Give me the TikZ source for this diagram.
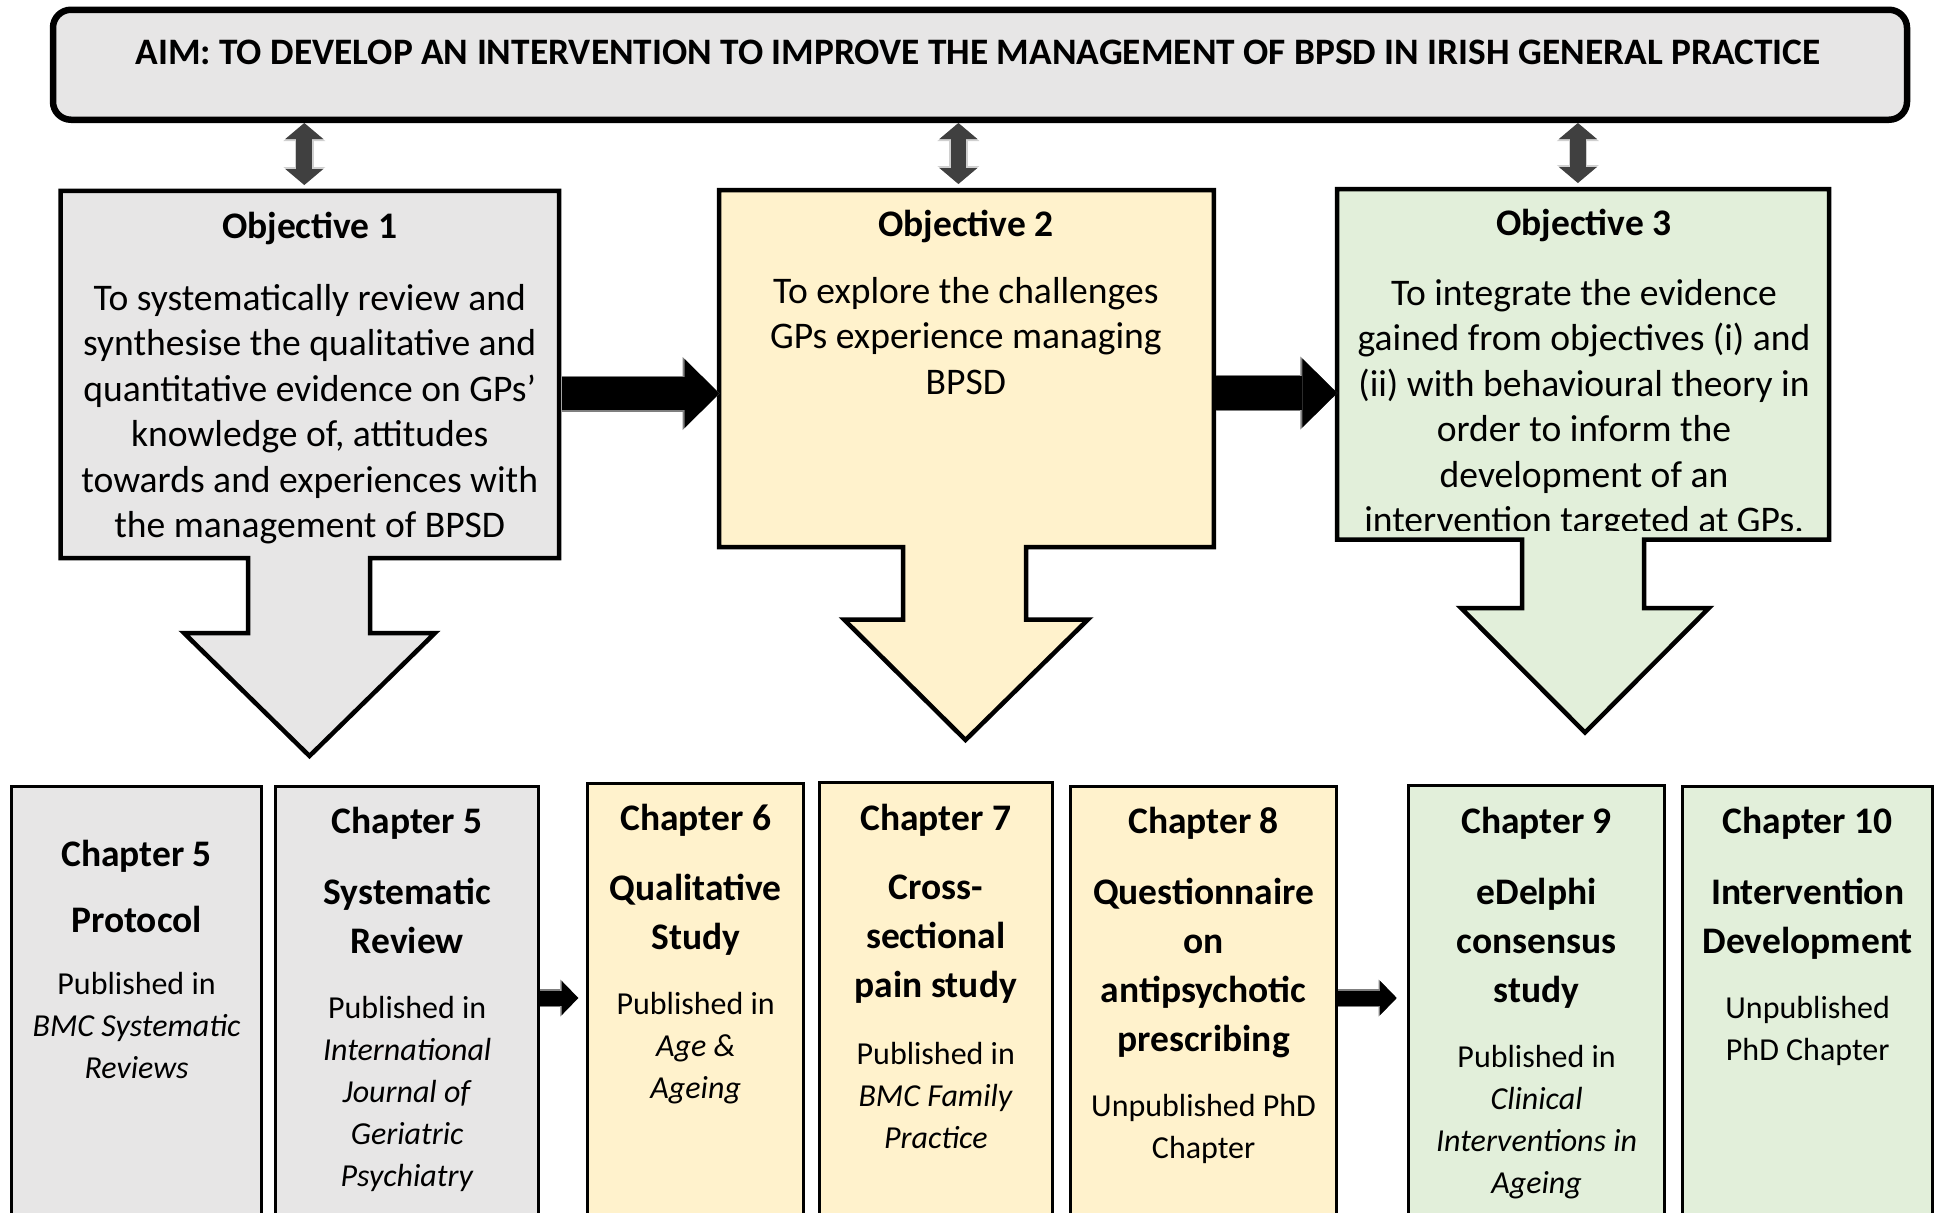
\documentclass[tikz,border=0pt]{standalone}
\usepackage{fontspec}
\setmainfont{Carlito}
\usetikzlibrary{arrows.meta}
\definecolor{aimgrey}{HTML}{E7E6E6}
\definecolor{obgrey}{HTML}{E7E6E6}
\definecolor{obyellow}{HTML}{FFF2CC}
\definecolor{obgreen}{HTML}{E2EFDA}
\definecolor{linkgrey}{HTML}{404040}
\definecolor{rimgrey}{HTML}{D0D0D0}
\definecolor{edgegrey}{HTML}{7F7F7F}

\begin{document}
\begin{tikzpicture}[x=1pt,y=-1pt,
    aimbox/.style={draw,line width=6.5pt,rounded corners=18pt,fill=aimgrey,
      minimum width=1854pt,minimum height=110pt,inner sep=0pt},
    objshape/.style={draw,line width=4.5pt,line join=miter},
    objtitle/.style={inner sep=0pt,font=\fontsize{37.5}{45}\selectfont\bfseries},
    objtext/.style={inner sep=0pt,align=center,font=\fontsize{37.6}{45.5}\selectfont},
    chapbox/.style={draw,line width=3pt,minimum height=440pt,anchor=north,inner sep=0pt},
    chaptitle/.style={inner sep=0pt,align=center,font=\fontsize{37.5}{49}\selectfont\bfseries},
    chaptext/.style={inner sep=0pt,align=center,font=\fontsize{32}{42}\selectfont},
    dblarrow/.style={linkgrey,line width=15.7pt,
      {Triangle[length=16pt,width=38pt,line width=0pt]}-{Triangle[length=16pt,width=38pt,line width=0pt]},
      preaction={draw=rimgrey,line width=18.5pt,
        {Triangle[length=18pt,width=42pt,line width=0pt]}-{Triangle[length=18pt,width=42pt,line width=0pt]}}},
    fatarrow/.style={black,line width=33.3pt,-{Triangle[length=35pt,width=69pt,line width=0pt]},
      preaction={draw=edgegrey,line width=36pt,-{Triangle[length=37pt,width=73pt,line width=0pt]}}},
    smallarrow/.style={black,line width=15pt,-{Triangle[length=16.5pt,width=34pt,line width=0pt]},
      preaction={draw=edgegrey,line width=17.5pt,-{Triangle[length=18pt,width=37pt,line width=0pt]}}}]
  \clip (0,0) rectangle (1939,1213);

  % aim
  \node[aimbox] (aim) at (980,64.75) {};
  \node[inner sep=0pt,font=\fontsize{37.35}{44}\selectfont\bfseries] (aimtext) at (978,52.5)
    {AIM: TO DEVELOP AN INTERVENTION TO IMPROVE THE MANAGEMENT OF BPSD IN IRISH GENERAL PRACTICE};

  % objectives
  \filldraw[objshape,fill=obgrey] (60.5,190.8) -- (559.2,190.8) -- (559.2,558) -- (370,558)
    -- (370,633) -- (435,633) -- (309.5,756) -- (184,633) -- (248,633) -- (248,558)
    -- (60.5,558) -- cycle;
  \filldraw[objshape,fill=obyellow] (719.2,190) -- (1213.8,190) -- (1213.8,547) -- (1026,547)
    -- (1026,619.5) -- (1088,619.5) -- (965.5,740) -- (844,619.5) -- (903,619.5) -- (903,547)
    -- (719.2,547) -- cycle;
  \filldraw[objshape,fill=obgreen] (1337.1,189) -- (1829,189) -- (1829,539.5) -- (1644,539.5)
    -- (1644,608) -- (1709,608) -- (1585,732.5) -- (1461,608) -- (1522,608) -- (1522,539.5)
    -- (1337.1,539.5) -- cycle;

  \node[objtitle] (o1head) at (309.7,228.8) {Objective 1};
  \node[objtext] (o1body) at (309.7,414.3) {To systematically review and\\synthesise the qualitative and\\quantitative evidence on GPs’\\knowledge of, attitudes\\towards and experiences with\\the management of BPSD};
  \node[objtitle] (o2head) at (965.8,226.5) {Objective 2};
  \node[objtext] (o2body) at (965.8,336) {To explore the challenges\\GPs experience managing\\BPSD};
  \node[objtitle] (o3head) at (1584,225.1) {Objective 3};
  \begin{scope}
    \clip (1337,189) rectangle (1829,530.5);
    \node[objtext] (o3body) at (1584,409.3) {To integrate the evidence\\gained from objectives (i) and\\(ii) with behavioural theory in\\order to inform the\\development of an\\intervention targeted at GPs.};
  \end{scope}

  \coordinate (o1top) at (304.3,185);
  \coordinate (o2top) at (958.4,184);
  \coordinate (o3top) at (1577.9,183);
  \coordinate (o1out) at (561.5,393.5);
  \coordinate (o2in) at (719.5,393.5);
  \coordinate (o2out) at (1216,393);
  \coordinate (o3in) at (1337.3,393);

  \draw[dblarrow] (aim.south -| o1top) -- (o1top);
  \draw[dblarrow] (aim.south -| o2top) -- (o2top);
  \draw[dblarrow] (aim.south -| o3top) -- (o3top);
  \draw[fatarrow] (o1out) -- (o2in);
  \draw[fatarrow] (o2out) -- (o3in);

  % chapters
  \node[chapbox,fill=obgrey,minimum width=250.6pt] (c5p) at (136.6,785) {};
  \node[chapbox,fill=obgrey,minimum width=262.5pt] (c5r) at (407.2,785) {};
  \node[chapbox,fill=obyellow,minimum width=215.5pt] (c6) at (695.7,781.7) {};
  \node[chapbox,fill=obyellow,minimum width=233.2pt] (c7) at (935.8,780.7) {};
  \node[chapbox,fill=obyellow,minimum width=265.8pt] (c8) at (1203.6,785) {};
  \node[chapbox,fill=obgreen,minimum width=255.8pt] (c9) at (1536.6,784) {};
  \node[chapbox,fill=obgreen,minimum width=250.5pt] (c10) at (1807.7,785) {};

  \node[chaptitle] (t5p) at (136.6,855.8) {Chapter 5};
  \node[chaptitle] (s5p) at (136.6,919.5) {Protocol};
  \node[chaptext] (p5p) at (136.6,1025.6) {Published in\\\textit{BMC Systematic}\\\textit{Reviews}};

  \node[chaptitle] (t5r) at (407.2,823.6) {Chapter 5};
  \node[chaptitle] (s5r) at (407.2,916.2) {Systematic\\Review};
  \node[chaptext] (p5r) at (407.2,1094.4) {Published in\\\textit{International}\\\textit{Journal of}\\\textit{Geriatric}\\\textit{Psychiatry}};

  \node[chaptitle] (t6) at (695.7,819.9) {Chapter 6};
  \node[chaptitle] (s6) at (695.7,914.5) {Qualitative\\Study};
  \node[chaptext] (p6) at (695.7,1048) {Published in\\\textit{Age \&}\\\textit{Ageing}};

  \node[chaptitle] (t7) at (935.8,819.9) {Chapter 7};
  \node[chaptitle] (s7) at (935.8,939.2) {Cross-\\sectional\\pain study};
  \node[chaptext] (p7) at (935.8,1095) {Published in\\\textit{BMC Family}\\\textit{Practice}};

  \node[chaptitle] (t8) at (1203.6,823.6) {Chapter 8};
  \node[chaptitle] (s8) at (1203.6,968.1) {Questionnaire\\on\\antipsychotic\\prescribing};
  \node[chaptext] (p8) at (1203.6,1129) {Unpublished PhD\\Chapter};

  \node[chaptitle] (t9) at (1536.6,823.6) {Chapter 9};
  \node[chaptitle] (s9) at (1536.6,943) {eDelphi\\consensus\\study};
  \node[chaptext] (p9) at (1536.6,1121.7) {Published in\\\textit{Clinical}\\\textit{Interventions in}\\\textit{Ageing}};

  \node[chaptitle] (t10) at (1807.7,823.6) {Chapter 10};
  \node[chaptitle] (s10) at (1807.7,918.3) {Intervention\\Development};
  \node[chaptext] (p10) at (1807.7,1031.3) {Unpublished\\PhD Chapter};

  \coordinate (c6in) at (578.3,998);
  \coordinate (c9in) at (1396.7,998);
  \draw[smallarrow] (c5r.east |- c6in) -- (c6in);
  \draw[smallarrow] (c8.east |- c9in) -- (c9in);
\end{tikzpicture}
\end{document}
